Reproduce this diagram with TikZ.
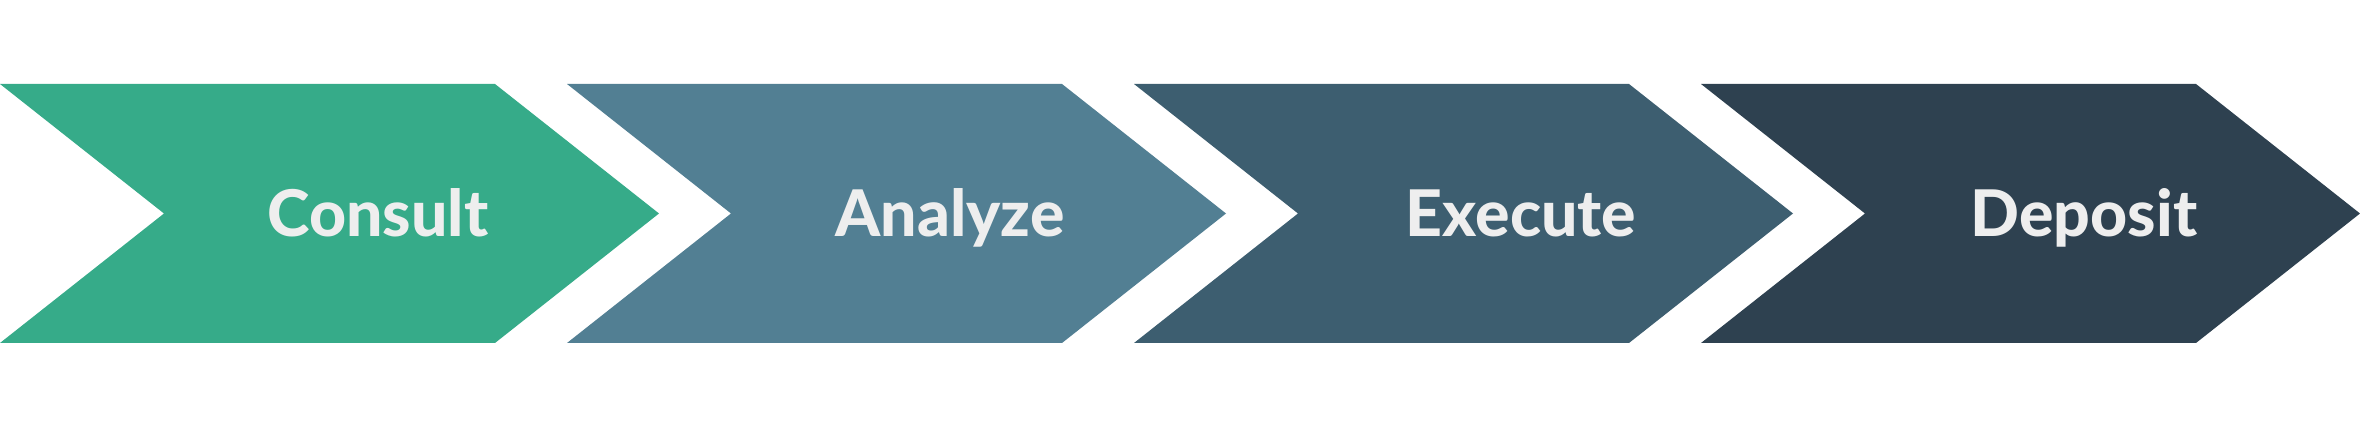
\documentclass[tikz,border=0pt]{standalone}
\usepackage{fontspec}
\setmainfont{Lato}[BoldFont={Lato Heavy}]
\usepackage{tikz}
\usepackage{xcolor}
\usetikzlibrary{positioning}

\definecolor{consultgreen}{HTML}{36AB89}
\definecolor{analyzeblue}{HTML}{527F93}
\definecolor{executeblue}{HTML}{3D5E70}
\definecolor{depositblue}{HTML}{2E4150}
\definecolor{labelgray}{HTML}{EEEEEE}

\tikzset{
  stage label/.style={text=labelgray, anchor=base, inner sep=0pt,
    font=\fontsize{18.3}{22}\selectfont\bfseries}
}

\begin{document}
\begin{tikzpicture}[x=0.01cm,y=0.01cm]
\useasboundingbox (0,0) rectangle (2360,-428);
\fill [consultgreen] (0,-84) -- (495,-84) -- (659,-213.5) -- (495,-343) -- (0,-343) -- (164,-213.5) -- cycle;
\fill [analyzeblue] (567,-84) -- (1062,-84) -- (1226,-213.5) -- (1062,-343) -- (567,-343) -- (731,-213.5) -- cycle;
\fill [executeblue] (1134,-84) -- (1629,-84) -- (1793,-213.5) -- (1629,-343) -- (1134,-343) -- (1298,-213.5) -- cycle;
\fill [depositblue] (1701,-84) -- (2196,-84) -- (2360,-213.5) -- (2196,-343) -- (1701,-343) -- (1865,-213.5) -- cycle;
\node [stage label] (consult) at (378,-236.5) {Consult};
\node [stage label] (analyze) at (950,-236.5) {Analyze};
\node [stage label] (execute) at (1521,-236.5) {Execute};
\node [stage label] (deposit) at (2084,-236.5) {Deposit};
\end{tikzpicture}
\end{document}
